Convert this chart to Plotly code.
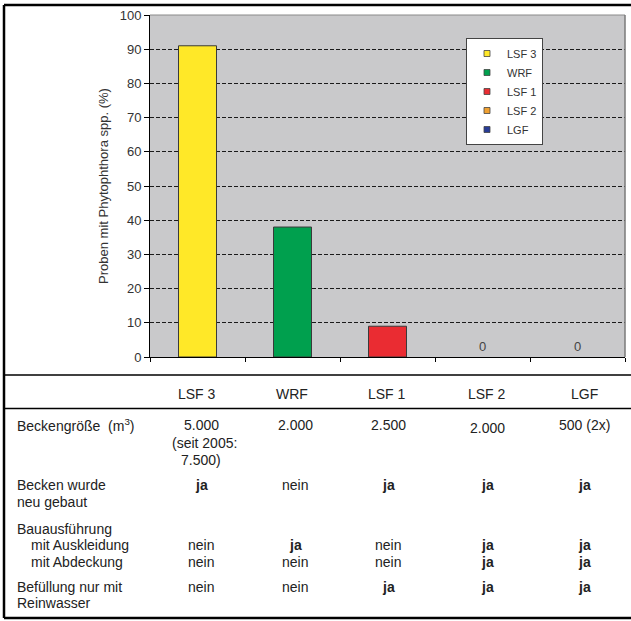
import plotly.graph_objects as go

# Bar chart data
sites = ["LSF 3", "WRF", "LSF 1", "LSF 2", "LGF"]
share_positive = [91, 38, 9, 0, 0]
bar_colors = ["#FFE828", "#00A04E", "#EA2C32", "#F0A030", "#283C96"]
y_ticks = list(range(0, 101, 10))
y_title = "Proben mit Phytophthora spp. (%)"

# Table data below the chart
basin_size = [["5.000", "(seit 2005:", "7.500)"], ["2.000"], ["2.500"], ["2.000"], ["500 (2x)"]]
newly_built = ["ja", "nein", "ja", "ja", "ja"]
with_lining = ["nein", "ja", "nein", "ja", "ja"]
with_cover = ["nein", "nein", "nein", "ja", "ja"]
clean_water_only = ["nein", "nein", "ja", "ja", "ja"]

W, H = 631, 621
L, R, T, B = 150, 625, 15, 357
FONT = "Arial, Liberation Sans, sans-serif"
TXT = "#222222"


def px(x):
    return (x - L) / (R - L)


def py(y):
    return (B - y) / (B - T)


fig = go.Figure()

for name, val, col in zip(sites, share_positive, bar_colors):
    bar = dict(
        x=[name], y=[val], width=0.4, name=name, showlegend=False,
        marker=dict(color=col, line=dict(color="#3a3a3a", width=1 if val else 0)),
        cliponaxis=False,
    )
    if val == 0:
        # empty samples are labelled with their value
        bar.update(text=[str(val)], textposition="outside",
                   textfont=dict(family=FONT, size=13, color="#444444"))
    fig.add_trace(go.Bar(**bar))

# legend entries with small square swatches
for name, col in zip(sites, bar_colors):
    fig.add_trace(go.Scatter(
        x=[None], y=[None], mode="markers", name=name,
        marker=dict(symbol="square", size=6, color=col,
                    line=dict(color="#444444", width=0.8)),
    ))

annotations = []
shapes = []

# plot frame (top and right edges)
shapes.append(dict(type="line", xref="paper", yref="paper", x0=0, x1=1, y0=1, y1=1,
                   line=dict(color="#8a8a8a", width=1), layer="above"))
shapes.append(dict(type="line", xref="paper", yref="paper", x0=1, x1=1, y0=0, y1=1,
                   line=dict(color="#7a7a7a", width=1.5), layer="above"))

# outer border
for (x0, y0, x1, y1) in [(4, 5, 631, 5), (4, 5, 4, 618), (4, 618, 631, 618)]:
    shapes.append(dict(type="line", xref="paper", yref="paper",
                       x0=px(x0), x1=px(x1), y0=py(y0), y1=py(y1),
                       line=dict(color="black", width=2.5)))
# table rules
for y in (375, 408.5):
    shapes.append(dict(type="line", xref="paper", yref="paper",
                       x0=px(4), x1=px(631), y0=py(y), y1=py(y),
                       line=dict(color="black", width=1.5)))


def note(text, x, y, anchor="center", size=14):
    annotations.append(dict(text=text, x=px(x), y=py(y), xref="paper", yref="paper",
                            xanchor=anchor, yanchor="middle", showarrow=False,
                            font=dict(family=FONT, size=size, color=TXT)))


def cell(v):
    return "<b>ja</b>" if v == "ja" else v


header_x = [197, 292, 387, 487, 584]
value_x = [201, 295, 388, 487, 584]

for name, x in zip(sites, header_x):
    note(name, x, 394)

# row labels
note("Beckengröße  (m<sup>3</sup>)", 15, 425, "left")
note("Becken wurde", 15, 485, "left")
note("neu gebaut", 15, 502, "left")
note("Bauausführung", 15, 529, "left")
note("mit Auskleidung", 29, 545, "left")
note("mit Abdeckung", 29, 562, "left")
note("Befüllung nur mit", 15, 587, "left")
note("Reinwasser", 15, 603, "left")

# values
for i, x in enumerate(value_x):
    lines = basin_size[i]
    base = 428 if sites[i] == "LSF 2" else 425
    for k, line in enumerate(lines):
        note(line, x + (3 if line.startswith("(") else 0), base + 17.5 * k)
    note(cell(newly_built[i]), x, 485)
    note(cell(with_lining[i]), x, 545)
    note(cell(with_cover[i]), x, 562)
    note(cell(clean_water_only[i]), x, 587)

fig.update_layout(
    width=W, height=H,
    margin=dict(l=L, r=W - R, t=T, b=H - B, pad=0),
    paper_bgcolor="white",
    plot_bgcolor="#C9C9CB",
    barmode="overlay",
    font=dict(family=FONT, size=13, color="#333333"),
    showlegend=True,
    legend=dict(x=px(466), y=py(38), xanchor="left", yanchor="top",
                bgcolor="white", bordercolor="#444444", borderwidth=1,
                font=dict(family=FONT, size=11, color="#333333"),
                tracegroupgap=0, itemwidth=30),
    xaxis=dict(
        categoryorder="array", categoryarray=sites,
        showticklabels=False, showgrid=False, zeroline=False,
        showline=True, linecolor="black", linewidth=1,
        ticks="outside", tickson="boundaries", ticklen=4, tickcolor="black",
        range=[-0.5, 4.5],
    ),
    yaxis=dict(
        range=[0, 100], tickvals=y_ticks, ticks="outside", ticklen=5,
        tickcolor="black", showline=True, linecolor="black", linewidth=1,
        showgrid=True, gridcolor="#1a1a1a", gridwidth=1, griddash="4px,2px",
        zeroline=False,
        tickfont=dict(family=FONT, size=13, color="#333333"),
        title=dict(text=y_title, standoff=8,
                   font=dict(family=FONT, size=13, color="#333333")),
    ),
    annotations=annotations,
    shapes=shapes,
)

fig.write_html("out.html")
